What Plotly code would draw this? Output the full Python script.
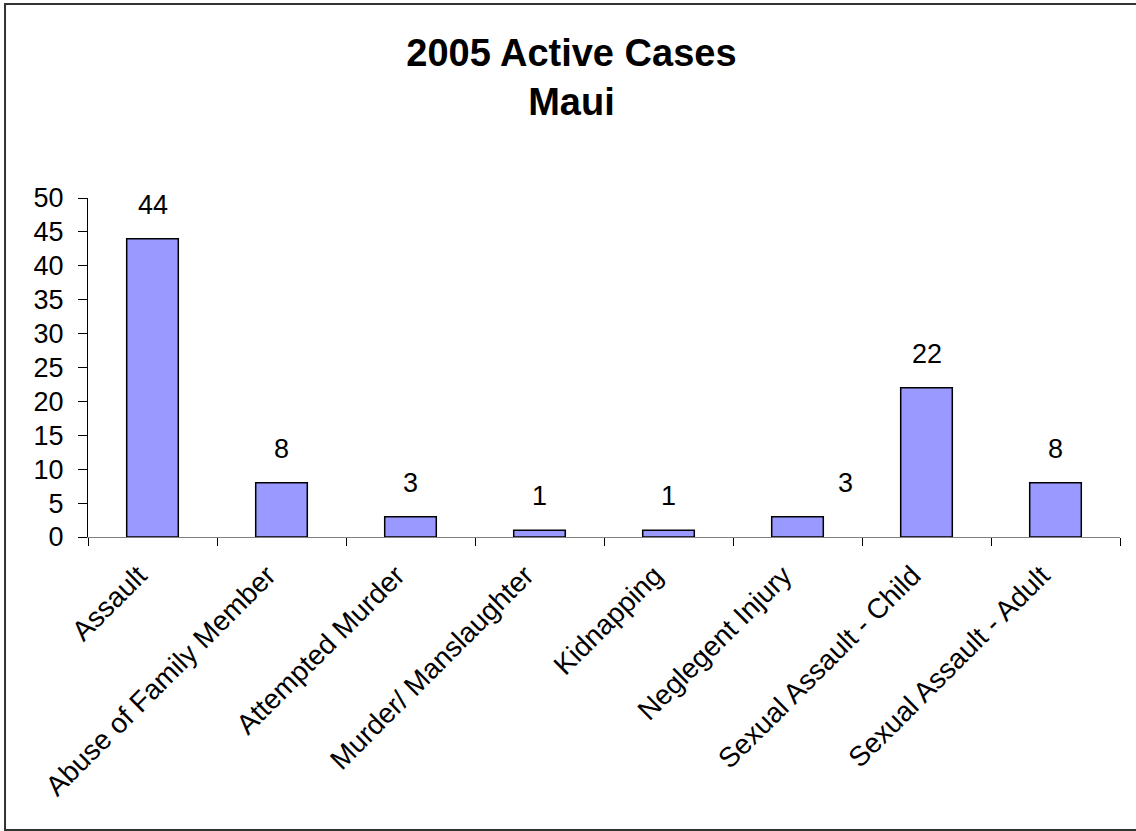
import plotly.graph_objects as go

categories = ["Assault", "Abuse of Family Member", "Attempted Murder",
              "Murder/ Manslaughter", "Kidnapping", "Neglegent Injury",
              "Sexual Assault - Child", "Sexual Assault - Adult"]
values = [44, 8, 3, 1, 1, 3, 22, 8]
label_xshift = [0, 0, 0, 0, 0, 48, 0, 0]
y_ticks = [0, 5, 10, 15, 20, 25, 30, 35, 40, 45, 50]

FONT = "Liberation Sans, Arial, Helvetica, sans-serif"

fig = go.Figure()
fig.add_trace(go.Bar(
    x=categories, y=values,
    marker=dict(color="#9999FF", line=dict(color="#000000", width=1.5)),
    hoverinfo="x+y",
))

annotations = []
for c, v, dx in zip(categories, values, label_xshift):
    annotations.append(dict(
        x=c, y=v, xref="x", yref="y", text=str(v), showarrow=False,
        yanchor="bottom", xanchor="center", yshift=17, xshift=dx,
        font=dict(family=FONT, size=27, color="#000000"),
    ))

# chart frame (left, top, bottom edges; right edge lies outside the picture)
fx0, fx1, fy0, fy1 = -0.0804, 1.02, -0.864, 1.5723
frame = dict(type="path", xref="paper", yref="paper",
             path=f"M {fx1},{fy1} L {fx0},{fy1} L {fx0},{fy0} L {fx1},{fy0}",
             line=dict(color="#333333", width=2), layer="above")

fig.update_layout(
    width=1136, height=831,
    paper_bgcolor="white", plot_bgcolor="white",
    margin=dict(l=88, r=16, t=198, b=294, autoexpand=False),
    showlegend=False,
    bargap=0.6,
    title=dict(
        text="<b>2005 Active Cases<br>Maui</b>",
        x=0.503, xref="container", xanchor="center",
        y=1 - 66 / 831, yref="container", yanchor="middle",
        font=dict(family=FONT, size=38, color="#000000"),
    ),
    annotations=annotations,
    shapes=[frame],
)

fig.update_xaxes(
    type="category", tickangle=-45, tickson="boundaries",
    ticks="outside", ticklen=8, tickcolor="#000000",
    showline=True, linecolor="#808080", linewidth=1,
    showgrid=False, automargin=False,
    ticklabelstandoff=10, ticklabelshift=-14,
    tickfont=dict(family=FONT, size=28, color="#000000"),
)
fig.update_yaxes(
    range=[0, 50], tickvals=y_ticks, ticktext=[str(t) for t in y_ticks],
    ticks="outside", ticklen=9, tickcolor="#000000",
    showline=True, linecolor="#000000", linewidth=1,
    showgrid=False, zeroline=False, automargin=False, ticklabelstandoff=9,
    tickfont=dict(family=FONT, size=27, color="#000000"),
)

fig.write_html("out.html", config={"displayModeBar": False},
               post_script="document.body.style.margin='0';"
                           "document.body.style.overflow='hidden';")
